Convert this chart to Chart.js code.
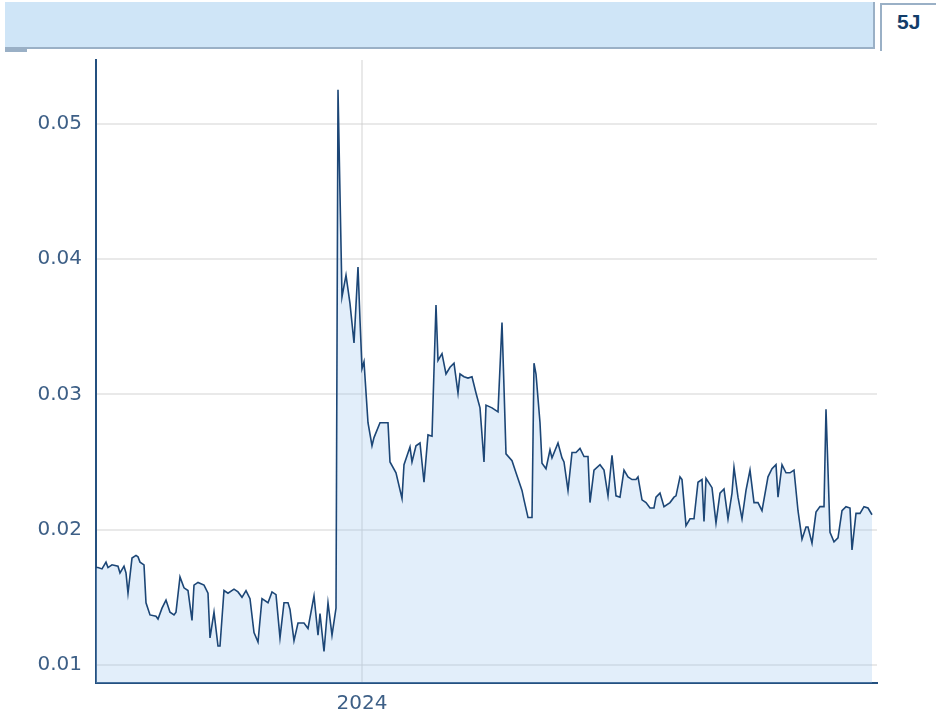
<!DOCTYPE html>
<html>
<head>
<meta charset="utf-8">
<script src="https://cdn.jsdelivr.net/npm/chart.js@4/dist/chart.umd.min.js"></script>
<style>
    html, body { margin: 0; padding: 0; background: #fff; }
    body { width: 936px; height: 713px; position: relative; overflow: hidden; font-family: "DejaVu Sans", Verdana, sans-serif; }
    .header { position: absolute; left: 5px; top: 2px; width: 868px; height: 45px; background: #cfe5f7; border-right: 2px solid #9ab0c6; border-bottom: 2px solid #9ab0c6; }
    .header-tab { position: absolute; left: 5px; top: 49px; width: 22px; height: 3px; background: #9ab0c6; }
    .badge { position: absolute; left: 880px; top: 3px; width: 56px; height: 46px; border-left: 2px solid #9ab0c6; border-top: 2px solid #9ab0c6; }
    .badge span { position: absolute; left: 15px; top: 5px; font-family: "Liberation Sans", Arial, sans-serif; font-size: 21px; font-weight: bold; color: #123d6a; }
    #rateChart { position: absolute; left: 0; top: 0; }
</style>
</head>
<body>
<div class="header"></div>
<div class="header-tab"></div>
<div class="badge"><span>5J</span></div>
<canvas id="rateChart" width="936" height="713"></canvas>
<script>
// days relative to 2024-01-01
const days = [
    -133, -132, -130, -128, -127, -125, -122, -121, -119, -118, -117, -115, -113, -112, -111, -109,
    -108, -106, -103, -102, -100, -98, -96, -94, -93, -91, -89, -87, -85, -84, -82, -79,
    -77, -76, -74, -72, -71, -69, -67, -64, -62, -60, -58, -56, -54, -52, -50, -47,
    -45, -43, -41, -39, -37, -36, -34, -32, -29, -27, -24, -22, -21, -19, -17, -15,
    -13, -12, -11, -10, -8, -6, -4, -2, -1, 0, 1, 3, 5, 6, 9, 11,
    13, 14, 17, 20, 21, 24, 25, 27, 29, 31, 33, 35, 36, 37, 38, 40,
    42, 44, 46, 48, 49, 51, 53, 55, 57, 59, 61, 62, 65, 68, 69, 70,
    71, 72, 75, 77, 80, 81, 83, 85, 86, 87, 89, 90, 92, 94, 95, 98,
    100, 101, 103, 105, 107, 109, 111, 113, 114, 116, 119, 121, 123, 125, 127, 129,
    131, 133, 135, 137, 138, 140, 142, 144, 146, 147, 149, 151, 154, 156, 157, 159,
    160, 162, 164, 166, 168, 170, 171, 172, 175, 177, 179, 181, 183, 185, 186, 188,
    190, 192, 194, 196, 198, 200, 203, 205, 207, 208, 210, 212, 214, 216, 218, 220,
    222, 223, 225, 227, 229, 231, 232, 233, 234, 236, 238, 240, 242, 244, 245, 247,
    249, 251, 253, 255
];

const values = [
    0.0172, 0.0172, 0.0171, 0.0176, 0.0172, 0.0174, 0.0173, 0.0168, 0.0173, 0.0168, 0.0153, 0.0179, 0.0181, 0.0180, 0.0176, 0.0174,
    0.0146, 0.0137, 0.0136, 0.0134, 0.0142, 0.0148, 0.0139, 0.0137, 0.0139, 0.0165, 0.0157, 0.0155, 0.0133, 0.0159, 0.0161, 0.0159,
    0.0153, 0.0120, 0.0139, 0.0114, 0.0114, 0.0155, 0.0153, 0.0156, 0.0154, 0.0150, 0.0155, 0.0149, 0.0124, 0.0117, 0.0149, 0.0146,
    0.0154, 0.0152, 0.0120, 0.0146, 0.0146, 0.0141, 0.0118, 0.0131, 0.0131, 0.0127, 0.0151, 0.0122, 0.0138, 0.0110, 0.0146, 0.0122,
    0.0142, 0.0525, 0.0448, 0.0372, 0.0388, 0.0367, 0.0338, 0.0394, 0.0355, 0.0319, 0.0324, 0.0279, 0.0262, 0.0268, 0.0279, 0.0279,
    0.0279, 0.0250, 0.0242, 0.0223, 0.0248, 0.0261, 0.0250, 0.0262, 0.0264, 0.0235, 0.0270, 0.0269, 0.0318, 0.0366, 0.0325, 0.0330,
    0.0315, 0.0320, 0.0323, 0.0301, 0.0315, 0.0313, 0.0312, 0.0313, 0.0301, 0.0290, 0.0250, 0.0292, 0.0290, 0.0287, 0.0320, 0.0353,
    0.0305, 0.0256, 0.0251, 0.0242, 0.0229, 0.0222, 0.0209, 0.0209, 0.0323, 0.0315, 0.0279, 0.0249, 0.0245, 0.0259, 0.0253, 0.0264,
    0.0253, 0.0250, 0.0229, 0.0257, 0.0257, 0.0260, 0.0254, 0.0254, 0.0220, 0.0244, 0.0248, 0.0244, 0.0225, 0.0255, 0.0225, 0.0224,
    0.0244, 0.0239, 0.0237, 0.0237, 0.0239, 0.0222, 0.0220, 0.0216, 0.0216, 0.0224, 0.0227, 0.0217, 0.0220, 0.0224, 0.0225, 0.0239,
    0.0237, 0.0203, 0.0208, 0.0208, 0.0235, 0.0237, 0.0206, 0.0238, 0.0231, 0.0205, 0.0227, 0.0230, 0.0208, 0.0227, 0.0246, 0.0224,
    0.0208, 0.0229, 0.0244, 0.0220, 0.0220, 0.0214, 0.0239, 0.0245, 0.0248, 0.0224, 0.0248, 0.0242, 0.0242, 0.0244, 0.0214, 0.0193,
    0.0202, 0.0202, 0.0190, 0.0213, 0.0217, 0.0217, 0.0289, 0.0244, 0.0198, 0.0191, 0.0194, 0.0214, 0.0217, 0.0216, 0.0185, 0.0212,
    0.0212, 0.0217, 0.0216, 0.0211
];

const yTicks = [0.01, 0.02, 0.03, 0.04, 0.05];
const xTickDays = [0];
const xTickLabels = ['2024'];

const axisColor = '#24507f';
const gridColor = 'rgba(200,200,200,0.4)';
const tickColor = '#3d5f86';

const points = days.map((d, i) => ({ x: d, y: values[i] }));

new Chart(document.getElementById('rateChart'), {
    type: 'line',
    data: {
        datasets: [{
            data: points,
            borderColor: '#1c4676',
            backgroundColor: 'rgba(160,200,238,0.3)',
            borderWidth: 1.6,
            pointRadius: 0,
            fill: 'start',
            tension: 0,
        }],
    },
    options: {
        responsive: false,
        animation: false,
        events: [],
        layout: {
            padding: { top: 60, right: 59, left: 0, bottom: 0 },
        },
        plugins: {
            legend: { display: false },
            tooltip: { enabled: false },
        },
        scales: {
            x: {
                type: 'linear',
                z: 1,
                min: -133,
                max: 257.5,
                afterBuildTicks: (scale) => {
                    scale.ticks = xTickDays.map(v => ({ value: v }));
                },
                afterFit: (scale) => {
                    scale.height = 30;
                },
                ticks: {
                    color: tickColor,
                    font: { family: 'DejaVu Sans', size: 20 },
                    padding: 9,
                    maxRotation: 0,
                    autoSkip: false,
                    callback: (value) => {
                        const idx = xTickDays.indexOf(value);
                        return idx >= 0 ? xTickLabels[idx] : '';
                    },
                },
                grid: {
                    color: gridColor,
                    lineWidth: 2,
                    drawTicks: false,
                },
                border: { color: axisColor, width: 2 },
            },
            y: {
                z: 1,
                min: 0.00867,
                max: 0.0547,
                afterBuildTicks: (scale) => {
                    scale.ticks = yTicks.map(v => ({ value: v }));
                },
                afterFit: (scale) => {
                    scale.width = 96;
                },
                ticks: {
                    color: tickColor,
                    font: { family: 'DejaVu Sans', size: 20 },
                    padding: 14,
                    autoSkip: false,
                    callback: (value) => value.toFixed(2),
                },
                grid: {
                    color: gridColor,
                    lineWidth: 2,
                    drawTicks: false,
                },
                border: { color: axisColor, width: 2 },
            },
        },
    },
});
</script>
</body>
</html>
